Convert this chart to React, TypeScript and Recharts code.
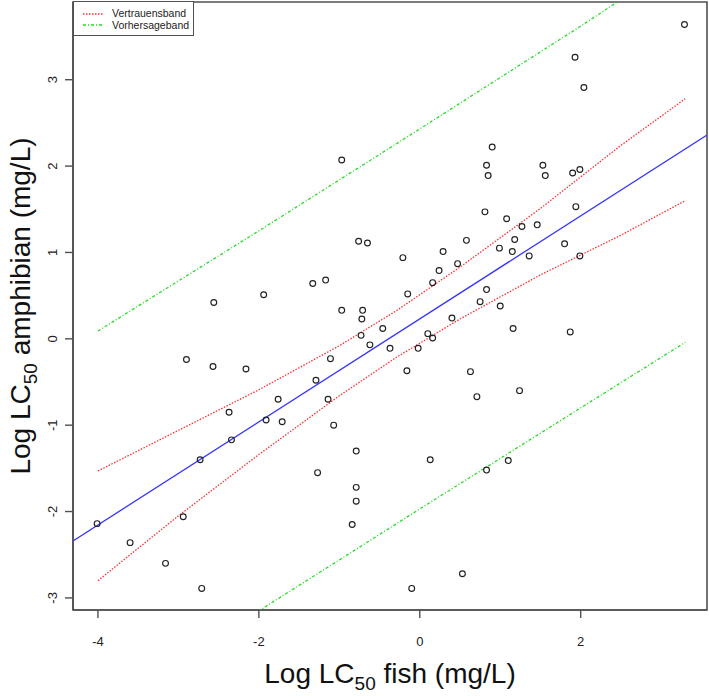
import React from 'react';
import { ScatterChart, Scatter, XAxis, YAxis, ReferenceArea, Label } from 'recharts';

// log LC50 values
const fishLog = [
  -4.01, -3.6, -3.16, -2.94, -2.71, -2.73, -2.37, -2.34, -1.91, -1.76, -1.71, -1.29, -1.14, -1.07, -1.27, -0.79, -0.79, -0.79, -0.84,
  0.81, 1.08, 1.27, 1.46, 1.18, 0.99, 1.15, 1.36, 0.58, 0.29, 0.47, 0.24, 0.16, -0.21, -0.76, -0.65, -1.33, -1.17, -1.94, -0.97,
  -0.71, -0.72, -0.15, 0.83, 0.75, 1.0, 0.4, -0.46, -0.73, -0.62, -0.37, -0.02, 0.1, 0.16, 1.16, -1.11, -0.16, 0.63, 0.71, 1.24,
  3.29, 1.93, 2.04, 0.9, 0.83, 0.85, 1.53, 1.56, 1.9, 1.99, 1.94, 1.8, 1.99,
  -0.97, -2.56, -2.9, -2.57, -2.16, 0.13, 0.83, 1.1, 0.53, -0.1, 1.87,
];
const amphibianLog = [
  -2.14, -2.36, -2.6, -2.06, -2.89, -1.4, -0.85, -1.17, -0.94, -0.7, -0.96, -0.48, -0.7, -1.0, -1.55, -1.3, -1.72, -1.88, -2.15,
  1.47, 1.39, 1.3, 1.32, 1.15, 1.05, 1.01, 0.96, 1.14, 1.01, 0.87, 0.79, 0.65, 0.94, 1.13, 1.11, 0.64, 0.68, 0.51, 0.33,
  0.33, 0.23, 0.52, 0.57, 0.43, 0.38, 0.24, 0.12, 0.04, -0.07, -0.11, -0.11, 0.06, 0.01, 0.12, -0.23, -0.37, -0.38, -0.67, -0.6,
  3.64, 3.26, 2.91, 2.22, 2.01, 1.89, 2.01, 1.89, 1.92, 1.96, 1.53, 1.1, 0.96,
  2.07, 0.42, -0.24, -0.32, -0.35, -1.4, -1.52, -1.41, -2.72, -2.89, 0.08,
];

// regression line (end points at plot edges)
const fitX = [-4.31, 3.57];
const fitY = [-2.34, 2.36];

// confidence band (Vertrauensband)
const confX = [-4, -3, -2, -1, -0.3, 0.5, 1.5, 2.5, 3.3];
const confUpper = [-1.53, -1.06, -0.59, -0.08, 0.32, 0.83, 1.51, 2.24, 2.78];
const confLower = [-2.8, -2.05, -1.34, -0.66, -0.22, 0.23, 0.74, 1.2, 1.6];

// prediction band (Vorhersageband)
const predX = [-4, -2, 0, 2, 3.3];
const predUpper = [0.09, 1.25, 2.43, 3.62, 4.42];
const predLower = [-4.38, -3.15, -1.97, -0.8, -0.04];

const xTicks = [-4, -2, 0, 2];
const yTicks = [-3, -2, -1, 0, 1, 2, 3];
const xDomain = [-4.31, 3.57];
const yDomain = [-3.14, 3.9];

const legendItems = [
  { name: 'Vertrauensband', color: '#ff3030', dash: '1.5 1.5' },
  { name: 'Vorhersageband', color: '#22dd22', dash: '3 2 1 2' },
];

const FONT = '"Liberation Sans", Arial, sans-serif';
const AXIS = '#505050';

const toPts = (xs: number[], ys: number[]) => xs.map((x, i) => ({ x, y: ys[i] }));

const points = toPts(fishLog, amphibianLog);
const fitLine = toPts(fitX, fitY);
const confUp = toPts(confX, confUpper);
const confLo = toPts(confX, confLower);
const predUp = toPts(predX, predUpper);
const predLo = toPts(predX, predLower);

const noShape = () => <g />;

const XTick = (props: any) => {
  const { x, y, payload } = props;
  return (
    <text x={x} y={y + 26} textAnchor="middle" fontSize={13} fontFamily={FONT} fill="#222">
      {payload.value}
    </text>
  );
};

const YTick = (props: any) => {
  const { y, payload } = props;
  return (
    <text transform={`translate(57,${y}) rotate(-90)`} textAnchor="middle" fontSize={13} fontFamily={FONT} fill="#222">
      {payload.value}
    </text>
  );
};

const XTitle = (props: any) => {
  const { x, width } = props.viewBox;
  return (
    <text x={x + width / 2} y={683} textAnchor="middle" fontSize={28} fontFamily={FONT} fill="#111">
      Log LC<tspan fontSize={19} dy={7}>50</tspan>
      <tspan dy={-7}> fish (mg/L)</tspan>
    </text>
  );
};

const YTitle = (props: any) => {
  const { y, height } = props.viewBox;
  return (
    <text transform={`translate(30,${y + height / 2}) rotate(-90)`} textAnchor="middle" fontSize={28} fontFamily={FONT} fill="#111">
      Log LC<tspan fontSize={19} dy={7}>50</tspan>
      <tspan dy={-7}> amphibian (mg/L)</tspan>
    </text>
  );
};

export default function App() {
  return (
    <div style={{ position: 'absolute', left: 0, top: 0, width: 709, height: 696, background: '#fff' }}>
      <ScatterChart width={709} height={696} margin={{ top: 2, right: 2, left: 0, bottom: 0 }}>
        <XAxis
          type="number"
          dataKey="x"
          domain={xDomain}
          ticks={xTicks}
          allowDataOverflow
          height={86}
          tickSize={8}
          axisLine={{ stroke: AXIS, strokeWidth: 1.6 }}
          tickLine={{ stroke: AXIS, strokeWidth: 1.4 }}
          tick={<XTick />}
        >
          <Label content={<XTitle />} />
        </XAxis>
        <YAxis
          type="number"
          dataKey="y"
          domain={yDomain}
          ticks={yTicks}
          allowDataOverflow
          width={73}
          tickSize={8}
          axisLine={{ stroke: AXIS, strokeWidth: 1.6 }}
          tickLine={{ stroke: AXIS, strokeWidth: 1.4 }}
          tick={<YTick />}
        >
          <Label content={<YTitle />} />
        </YAxis>
        <ReferenceArea x1={xDomain[0]} x2={xDomain[1]} y1={yDomain[0]} y2={yDomain[1]} fill="none" stroke={AXIS} strokeWidth={1.6} />
        <Scatter data={predUp} line={{ stroke: '#22dd22', strokeWidth: 1.3, strokeDasharray: '3 2 1 2' }} shape={noShape} isAnimationActive={false} />
        <Scatter data={predLo} line={{ stroke: '#22dd22', strokeWidth: 1.3, strokeDasharray: '3 2 1 2' }} shape={noShape} isAnimationActive={false} />
        <Scatter data={confUp} line={{ stroke: '#ff3030', strokeWidth: 1.3, strokeDasharray: '1.5 1.5' }} shape={noShape} isAnimationActive={false} />
        <Scatter data={confLo} line={{ stroke: '#ff3030', strokeWidth: 1.3, strokeDasharray: '1.5 1.5' }} shape={noShape} isAnimationActive={false} />
        <Scatter data={fitLine} line={{ stroke: '#3535ff', strokeWidth: 1.3 }} shape={noShape} isAnimationActive={false} />
        <Scatter
          data={points}
          isAnimationActive={false}
          shape={(p: any) => <circle cx={p.cx} cy={p.cy} r={2.9} fill="none" stroke="#222" strokeWidth={1.15} />}
        />
      </ScatterChart>
      <div
        style={{
          position: 'absolute',
          left: 73,
          top: 1,
          width: 121,
          height: 35,
          border: `1px solid ${AXIS}`,
          background: '#fff',
          fontFamily: FONT,
          fontSize: 10.5,
          color: '#222',
          boxSizing: 'border-box',
          padding: '6px 0 0 9px',
          lineHeight: '11.5px',
        }}
      >
        {legendItems.map((it) => (
          <div key={it.name} style={{ display: 'flex', alignItems: 'center' }}>
            <svg width={20} height={8} style={{ marginRight: 9 }}>
              <line x1={0} y1={4} x2={20} y2={4} stroke={it.color} strokeWidth={1.3} strokeDasharray={it.dash} />
            </svg>
            <span>{it.name}</span>
          </div>
        ))}
      </div>
    </div>
  );
}
